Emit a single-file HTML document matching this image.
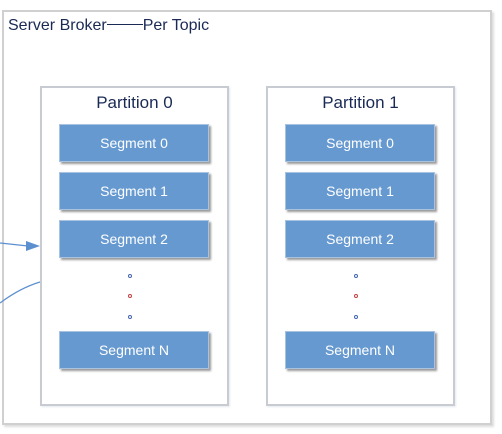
<!DOCTYPE html>
<html><head><style>
body{margin:0;width:502px;height:434px;background:#fff;position:relative;overflow:hidden;font-family:"Liberation Sans",sans-serif}
.b{position:absolute;box-sizing:border-box}
.outer{left:2px;top:10px;width:490px;height:415px;border:2px solid #d0d0d0;box-shadow:2px 2px 2px #ddd}
.part{width:189px;height:320px;top:86px;border:2px solid #c8ccd2;box-shadow:1px 1px 2px #e4e8ee}
.pt{position:absolute;width:100%;top:5px;text-align:center;font-size:17px;color:#1a2a55}
.seg{width:150px;height:38px;background:#6699d0;border:1px solid #a9c2e0;box-shadow:2px 2px 2px #999;color:#fff;font-size:14px;text-align:center;line-height:36px}
.title{position:absolute;left:8px;top:17px;font-size:16px;color:#1a2a55;white-space:nowrap}
.dot{position:absolute;width:2px;height:2px;border:1px solid #4466aa;border-radius:50%;background:#fff}
</style></head><body>
<div class="b outer"></div>
<div class="title">Server Broker<span style="display:inline-block;width:36px;border-top:1px solid #1a2a55;vertical-align:middle;margin-top:-2px"></span>Per Topic</div>
<div class="b part" style="left:40px"><div class="pt">Partition 0</div></div>
<div class="b part" style="left:266px"><div class="pt">Partition 1</div></div>
<div class="b seg" style="left:59px;top:124px">Segment 0</div>
<div class="b seg" style="left:59px;top:172px">Segment 1</div>
<div class="b seg" style="left:59px;top:220px">Segment 2</div>
<div class="b seg" style="left:59px;top:331px">Segment N</div>
<div class="b seg" style="left:285px;top:124px">Segment 0</div>
<div class="b seg" style="left:285px;top:172px">Segment 1</div>
<div class="b seg" style="left:285px;top:220px">Segment 2</div>
<div class="b seg" style="left:285px;top:331px">Segment N</div>
<div class="dot" style="left:128px;top:274px"></div>
<div class="dot" style="left:128px;top:294px;border-color:#c04040"></div>
<div class="dot" style="left:128px;top:315px"></div>
<div class="dot" style="left:354px;top:274px"></div>
<div class="dot" style="left:354px;top:294px;border-color:#c04040"></div>
<div class="dot" style="left:354px;top:315px"></div>
<svg class="b" style="left:0;top:0" width="502" height="434">
<path d="M0 243 L28 246" stroke="#5b8fd0" stroke-width="1.2" fill="none"/>
<polygon points="26,241 40,246 26,251" fill="#5b8fd0"/>
<path d="M0 303 Q20 288 40 282" stroke="#5b8fd0" stroke-width="1.2" fill="none"/>
</svg>
</body></html>
